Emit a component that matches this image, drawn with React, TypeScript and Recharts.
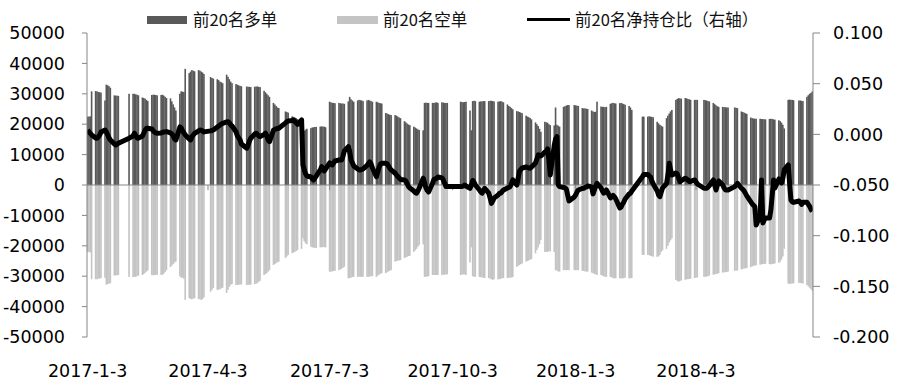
import React from 'react';
import { ComposedChart, Bar, Line, XAxis, YAxis, ReferenceLine } from 'recharts';

// ---- categories: trading days from 2017-01-03 to 2018-06-29 ----
const FIRST_DAY = '2017-01-03';
const LAST_DAY = '2018-06-29';
const holidays = [
  '2017-01-27', '2017-01-30', '2017-01-31', '2017-02-01', '2017-02-02',
  '2017-04-03', '2017-04-04', '2017-05-01', '2017-05-29', '2017-05-30',
  '2017-10-02', '2017-10-03', '2017-10-04', '2017-10-05', '2017-10-06',
  '2018-01-01', '2018-02-15', '2018-02-16', '2018-02-19', '2018-02-20', '2018-02-21',
  '2018-04-05', '2018-04-06', '2018-04-30', '2018-05-01', '2018-06-18',
];
const xTickLabels = ['2017-1-3', '2017-4-3', '2017-7-3', '2017-10-3', '2018-1-3', '2018-4-3'];
const leftTicks = [-50000, -40000, -30000, -20000, -10000, 0, 10000, 20000, 30000, 40000, 50000];
const rightTicks = [-0.2, -0.15, -0.1, -0.05, 0, 0.05, 0.1];

// ---- series values, one row per trading week (unit: thousand lots) ----
const longWeeks = [
  [22.5, 22.5, 22.6, 30.8], [30.9, 30.8, 30.6, 30.5, 30.4], [27.8, 33.0, 32.8, 32.5, 32.0], [29.5, 29.4, 29.4, 29.3],
  [30.0], [30.0, 30.0, 29.8, 29.7, 29.5], [28.8, 28.6, 28.4, 28.0, 27.6], [29.6, 29.7, 29.7, 29.6, 29.5],
  [29.6, 29.7, 29.4, 29.0, 28.6], [28.5, 27.5, 26.5, 25.5, 24.5], [30.0, 30.8, 30.7, 30.6, 38.2], [36.8, 37.3, 37.8, 37.6, 37.4],
  [37.8, 37.6, 37.3, 37.0, 36.5], [35.5, 35.2, 35.0], [34.8, 34.5, 34.0, 33.8, 33.5], [36.3, 35.6, 34.8, 34.0, 33.5],
  [33.2, 33.0, 32.8, 32.6, 32.5], [32.4, 32.3, 32.3, 32.2], [32.3, 32.4, 32.4, 32.3, 32.2], [31.0, 30.5, 30.0, 29.5, 29.0],
  [27.0, 26.5, 26.0, 25.5, 25.3], [24.2, 24.0, 23.8], [22.6, 22.4, 22.2, 22.0, 21.7], [21.2, 17.5, 17.8, 18.2, 18.5],
  [18.7, 18.9, 19.0, 19.1, 19.1], [19.2, 19.3, 19.2, 19.2, 19.0], [27.4, 27.2, 27.0, 27.0, 26.9], [27.0, 26.9, 26.8, 26.8, 26.7],
  [27.5, 29.0, 28.2, 27.8, 27.4], [27.8, 28.0, 27.9, 27.8, 27.6], [27.8, 28.0, 27.8, 27.6, 27.4], [27.4, 27.2, 27.0, 26.9, 26.8],
  [23.7, 23.5, 23.3, 23.1, 23.0], [23.0, 22.8, 22.5, 22.2, 22.0], [21.0, 20.6, 20.2, 19.9, 19.7], [19.2, 18.9, 18.6, 18.3, 18.1],
  [18.0, 27.0, 27.1, 27.0, 27.0], [27.0, 27.0, 27.1, 27.2, 27.0], [27.2, 27.1, 27.0, 27.0, 27.0],
  [27.4, 27.3, 27.2, 27.3, 27.4], [24.5, 18.0, 27.6, 27.7, 27.6], [27.4, 27.5, 27.5, 27.6, 27.6], [27.6, 27.7, 27.7, 27.6, 27.5],
  [27.4, 27.5, 27.6, 27.4, 27.2], [26.5, 26.0, 25.7, 25.3, 24.9], [24.3, 24.2, 24.0, 23.8, 23.6], [22.8, 22.5, 22.3, 22.0, 21.6],
  [20.6, 20.0, 19.4, 18.5, 17.5], [20.8, 20.6, 20.5, 20.0, 19.7], [19.6, 25.5, 19.8, 19.5, 19.2], [25.7, 25.9, 26.1, 26.3, 26.3],
  [26.3, 26.2, 26.1, 26.0], [25.3, 25.2, 25.2, 25.1, 25.0], [24.5, 24.2, 24.0, 24.1, 27.4], [25.8, 25.7, 25.7, 25.6, 25.7],
  [26.7, 26.9, 27.0, 26.9, 26.8], [26.9, 27.0, 26.8, 26.6, 26.4], [26.0, 25.5, 24.7], [22.5, 22.5],
  [22.5, 22.6, 22.5, 22.4, 22.3], [20.8, 20.3, 19.8, 19.5, 19.2], [22.0, 22.8, 23.5, 24.2, 24.7], [28.0, 28.3, 28.6, 28.5, 28.4],
  [28.6, 28.5, 28.3, 28.2, 28.0], [28.0, 28.0, 28.0], [28.0, 27.9, 27.8, 27.6, 27.5], [27.0, 26.6, 26.2, 25.9, 25.7],
  [25.7, 25.6, 25.6, 25.5, 25.5], [25.5, 25.4, 25.3], [24.2, 24.0, 23.8, 23.6, 23.4], [22.2, 22.0, 21.9, 21.8, 21.8],
  [21.8, 21.7, 21.7, 21.6, 21.6], [21.7, 21.8, 21.7, 21.6, 21.5], [21.3, 21.0, 20.5, 19.8, 18.6], [28.0, 28.1, 28.0, 28.0, 27.9],
  [27.8, 27.8, 27.7, 27.6], [29.0, 29.5, 30.0, 30.3, 30.8],
];

const shortWeeks = [
  [-22.0, -22.0, -22.2, -31.0], [-31.0, -31.0, -30.8, -30.8, -30.6], [-30.5, -32.8, -32.6, -32.5, -32.3], [-29.8, -29.7, -29.7, -29.6],
  [-30.2], [-30.3, -30.2, -30.2, -30.0, -29.8], [-29.6, -29.3, -28.9, -28.5, -28.1], [-29.6, -29.7, -29.6, -29.6, -29.5],
  [-29.6, -29.5, -29.2, -28.6, -28.0], [-27.0, -26.5, -26.0, -25.5, -25.2], [-30.0, -30.5, -30.5, -30.8, -37.8], [-37.2, -37.5, -37.6, -37.4, -37.2],
  [-37.5, -37.6, -37.8, -37.5, -37.0], [-35.1, -34.5, -33.9], [-34.5, -34.4, -34.3, -34.0, -33.8], [-35.5, -34.5, -33.5, -32.8, -32.6],
  [-32.9, -32.9, -32.8, -32.8, -32.7], [-32.9, -32.9, -32.8, -32.8], [-32.6, -32.5, -32.2, -31.8, -31.5], [-29.6, -29.3, -29.0, -28.5, -28.0],
  [-26.3, -26.0, -25.7, -25.4, -25.2], [-24.0, -23.5, -23.0], [-22.4, -22.2, -22.0, -21.7, -21.4], [-21.0, -17.5, -18.5, -19.2, -19.5],
  [-20.3, -20.5, -20.6, -20.7, -20.7], [-20.5, -20.5, -20.4, -20.5, -20.5], [-28.5, -28.5, -28.4, -28.3, -28.2], [-28.0, -27.8, -27.5, -27.2, -26.9],
  [-30.7, -30.6, -30.5, -30.3, -30.2], [-30.2, -30.2, -30.2, -30.2, -30.2], [-30.2, -30.2, -30.1, -30.0, -30.0], [-30.2, -29.8, -29.5, -29.2, -29.0],
  [-29.0, -28.7, -28.4, -28.2, -28.0], [-25.2, -25.0, -24.9, -24.8, -24.7], [-24.0, -23.8, -23.6, -23.4, -23.3], [-22.0, -21.5, -21.0, -20.3, -19.7],
  [-19.5, -30.2, -30.2, -30.1, -30.0], [-29.6, -29.6, -29.6, -29.6, -29.6], [-29.6, -29.5, -29.5, -29.4, -29.4],
  [-29.6, -29.5, -29.4, -29.4, -29.6], [-25.5, -20.5, -30.0, -30.2, -30.2], [-30.2, -30.3, -30.4, -30.5, -30.6], [-30.6, -30.8, -31.0, -31.2, -31.0],
  [-31.0, -31.0, -30.8, -30.7, -30.6], [-30.6, -30.5, -30.5, -30.4, -30.3], [-26.9, -26.6, -26.3, -26.0, -25.8], [-25.2, -25.0, -24.8, -24.6, -24.3],
  [-22.5, -21.4, -20.5, -19.5, -18.1], [-22.0, -22.0, -22.0, -21.8, -21.8], [-22.0, -28.0, -28.2, -28.4, -28.5], [-28.0, -28.0, -28.0, -28.0, -28.0],
  [-28.0, -28.0, -28.0, -28.0], [-28.2, -28.3, -28.4, -28.5, -28.5], [-28.8, -29.0, -29.2, -29.4, -29.6], [-29.6, -29.8, -30.0, -30.2, -30.2],
  [-30.2, -30.4, -30.6, -30.7, -30.7], [-30.7, -30.7, -30.7, -30.6, -30.5], [-30.7, -30.7, -30.6], [-23.0, -23.0],
  [-23.0, -23.1, -23.3, -23.4, -23.6], [-23.6, -23.5, -23.0, -22.0, -21.5], [-21.0, -20.0, -19.0, -18.2, -17.6], [-31.2, -31.5, -31.8, -31.6, -31.4],
  [-31.2, -31.0, -31.0, -30.9, -30.8], [-30.6, -30.5, -30.4], [-30.2, -30.2, -30.1, -30.0, -29.8], [-29.5, -29.4, -29.3, -29.2, -29.0],
  [-28.8, -28.7, -28.7, -28.6, -28.5], [-28.2, -28.2, -28.1], [-27.8, -27.6, -27.5, -27.4, -27.3], [-27.0, -26.8, -26.6, -26.5, -26.4],
  [-26.2, -26.1, -26.0, -26.0, -25.9], [-26.0, -26.1, -26.0, -25.9, -25.8], [-25.6, -25.2, -24.5, -23.5, -21.0], [-32.4, -32.5, -32.5, -32.4, -32.3],
  [-32.2, -32.2, -32.3, -32.4], [-32.9, -33.3, -33.8, -34.2, -34.8],
];

const ratioWeeks = [
  [0.0043, 0.0024, 0.0009, -0.0006], [-0.0036, -0.0039, -0.0026, -0.0006, 0.0024], [0.0043, 0.0024, -0.0006, -0.0036, -0.0055], [-0.0095, -0.0105, -0.0095, -0.0088],
  [-0.0038], [-0.0016, 0.0011, -0.0016, -0.0036, -0.0038], [-0.0016, 0.0014, 0.0043, 0.006, 0.006], [0.0053, 0.0034, 0.0024, 0.0014, 0.0011],
  [0.0014, 0.0019, 0.0024, 0.0024, 0.0027], [0.0014, 0.0004, -0.0016, -0.0045, -0.0055], [0.0073, 0.0063, 0.0034, 0.0014, -0.0006], [-0.0045, -0.0055, -0.0026, -0.0006, 0.0009],
  [0.0034, 0.0043, 0.0039, 0.0034, 0.0024], [0.0034, 0.0039, 0.0043], [0.0073, 0.0083, 0.0093, 0.0103, 0.0108], [0.0122, 0.0125, 0.0113, 0.0093, 0.0083],
  [0.0024, -0.0016, -0.0036, -0.0055, -0.0095], [-0.0137, -0.0105, -0.0065, -0.0038], [0.0004, 0.0011, -0.0001, -0.0016, -0.0023], [-0.0001, 0.0011, -0.0016, -0.0055, -0.0072],
  [0.0043, 0.0048, 0.0053, 0.0058, 0.006], [0.0113, 0.0125, 0.0132], [0.0137, 0.0142, 0.0127, 0.0113, 0.0098], [0.0142, -0.0302, -0.0351, -0.0391, -0.0411],
  [-0.0421, -0.044, -0.045, -0.043, -0.0411], [-0.0351, -0.0319, -0.0332, -0.0361, -0.0342], [-0.0282, -0.0292, -0.0302, -0.0282, -0.0263], [-0.0253, -0.0253, -0.0253, -0.0213, -0.0164],
  [-0.0121, -0.0174, -0.0253, -0.0282, -0.0312], [-0.0342, -0.0351, -0.0351, -0.0347, -0.0342], [-0.0307, -0.0287, -0.0272, -0.0292, -0.0332], [-0.0418, -0.0371, -0.0322, -0.0292, -0.0285],
  [-0.0285, -0.0292, -0.0312, -0.0335, -0.0351], [-0.0384, -0.0401, -0.0418, -0.043, -0.0445], [-0.045, -0.046, -0.049, -0.0516, -0.0529], [-0.0559, -0.0574, -0.0581, -0.0559, -0.0529],
  [-0.0433, -0.048, -0.0529, -0.0554, -0.0569], [-0.048, -0.0445, -0.044, -0.0433, -0.0421], [-0.043, -0.045, -0.048, -0.0516, -0.0516],
  [-0.0516, -0.0515, -0.051, -0.05, -0.051], [-0.0533, -0.05, -0.0455, -0.0475, -0.05], [-0.0549, -0.0569, -0.0581, -0.0554, -0.0534], [-0.0581, -0.0628, -0.0681, -0.0657, -0.0628],
  [-0.0599, -0.0583, -0.0579, -0.0564, -0.0549], [-0.0529, -0.0524, -0.0516, -0.0485, -0.045], [-0.05, -0.043, -0.0361, -0.0347, -0.0332], [-0.0322, -0.0327, -0.0332, -0.0335, -0.0322],
  [-0.0282, -0.0243, -0.0203, -0.0208, -0.0213], [-0.0174, -0.0169, -0.0144, -0.0253, -0.0401], [-0.0105, -0.0045, -0.0023, -0.05, -0.0516], [-0.0524, -0.0529, -0.0539, -0.0598, -0.0657],
  [-0.0618, -0.0598, -0.0569, -0.0549], [-0.0534, -0.0532, -0.0524, -0.0519, -0.0509], [-0.0519, -0.0588, -0.0549, -0.0509, -0.0483], [-0.0529, -0.0559, -0.0581, -0.0569, -0.0549],
  [-0.0628, -0.0618, -0.0603, -0.0618, -0.0638], [-0.0727, -0.0718, -0.0688, -0.0668, -0.0638], [-0.0588, -0.0581, -0.0559], [-0.0416, -0.0396],
  [-0.0396, -0.0411, -0.0421, -0.046, -0.049], [-0.0559, -0.0598, -0.0615, -0.0569, -0.0529], [-0.0483, -0.0401, -0.0285, -0.0351, -0.0401], [-0.0381, -0.0391, -0.043, -0.0467, -0.0458],
  [-0.0433, -0.044, -0.045, -0.0465, -0.0465], [-0.045, -0.047, -0.049], [-0.0532, -0.0532, -0.0532, -0.0519, -0.0505], [-0.045, -0.05, -0.0549, -0.05, -0.046],
  [-0.05, -0.0529, -0.0549, -0.0549, -0.0549], [-0.0516, -0.05, -0.0483], [-0.0532, -0.0544, -0.0559, -0.0583, -0.0608], [-0.0667, -0.0687, -0.0702, -0.0714, -0.0895],
  [-0.0796, -0.045, -0.0875, -0.0845, -0.0826], [-0.0826, -0.0746, -0.0598, -0.045, -0.0529], [-0.044, -0.046, -0.048, -0.043, -0.0351], [-0.0302, -0.048, -0.0648, -0.0667, -0.0672],
  [-0.0658, -0.0671, -0.0691, -0.0671], [-0.0671, -0.0691, -0.0711, -0.074, -0.076],
];

// ---- build table ----
const DAY_MS = 86400000;
const parseDate = (s: string) => {
  const [y, m, d] = s.split('-').map(Number);
  return Date.UTC(y, m - 1, d);
};
const pad = (n: number) => (n < 10 ? '0' + n : '' + n);
const isoOf = (t: number) => {
  const dt = new Date(t);
  return dt.getUTCFullYear() + '-' + pad(dt.getUTCMonth() + 1) + '-' + pad(dt.getUTCDate());
};
const startT = parseDate(FIRST_DAY);
const endT = parseDate(LAST_DAY);
const dayIndex = (t: number) => Math.round((t - startT) / DAY_MS);

const tradingDays: number[] = [];
for (let t = startT; t <= endT; t += DAY_MS) {
  const wd = new Date(t).getUTCDay();
  if (wd === 0 || wd === 6) continue;
  if (holidays.includes(isoOf(t))) continue;
  tradingDays.push(dayIndex(t));
}

const longVals = longWeeks.flat();
const shortVals = shortWeeks.flat();
const ratioVals = ratioWeeks.flat();
const n = Math.min(tradingDays.length, longVals.length, shortVals.length, ratioVals.length);
const data = tradingDays.slice(0, n).map((d, i) => ({
  d,
  long: Math.round(longVals[i] * 1000),
  short: Math.round(shortVals[i] * 1000),
  ratio: ratioVals[i],
}));

const xTicks = xTickLabels.map((s) => dayIndex(parseDate(s)));
const labelOf: Record<number, string> = {};
xTicks.forEach((d, i) => (labelOf[d] = xTickLabels[i]));
const xDomain = [tradingDays[0] - 0.5, tradingDays[n - 1] + 0.5];

const AXIS_GRAY = '#868686';
const LONG_COLOR = '#595959';
const SHORT_COLOR = '#c4c4c4';
const NUM_FONT = 'DejaVu Sans, Verdana, sans-serif';
const CJK_FONT = '"Noto Sans CJK SC", "Noto Sans", sans-serif';

// day bar: library-computed rect, widened slightly so adjacent trading days merge into solid blocks
const DayBar = (props: any) => {
  const { x, y, width, height, fill } = props;
  if (width == null || height == null) return null;
  const h = Math.abs(height);
  const top = height < 0 ? y + height : y;
  return <rect x={x - 0.2} y={top} width={width + 0.4} height={h} fill={fill} />;
};

const legendText: React.CSSProperties = {
  position: 'absolute',
  top: 8,
  fontFamily: CJK_FONT,
  fontSize: 16.5,
  lineHeight: '22px',
  color: '#111',
  whiteSpace: 'nowrap',
};

export default function App() {
  return (
    <div style={{ position: 'absolute', left: 0, top: 0, width: 900, height: 383, background: '#fff' }}>
      <ComposedChart
        width={900}
        height={383}
        data={data}
        stackOffset="sign"
        margin={{ top: 33, right: 7, bottom: 6, left: 7 }}
      >
        <XAxis
          dataKey="d"
          type="number"
          domain={xDomain}
          allowDataOverflow
          ticks={xTicks}
          interval={0}
          tickFormatter={(v: number) => labelOf[v] ?? ''}
          axisLine={false}
          tickLine={false}
          tickSize={6}
          tickMargin={22}
          height={40}
          tick={{ fill: '#000', fontSize: 17.5, fontFamily: NUM_FONT }}
        />
        <YAxis
          yAxisId="left"
          orientation="left"
          domain={[-50000, 50000]}
          ticks={leftTicks}
          interval={0}
          width={80}
          axisLine={{ stroke: AXIS_GRAY }}
          tickLine={{ stroke: AXIS_GRAY }}
          tickSize={5}
          tickMargin={17}
          tick={{ fill: '#000', fontSize: 17.5, fontFamily: NUM_FONT }}
        />
        <YAxis
          yAxisId="right"
          orientation="right"
          domain={[-0.2, 0.1]}
          ticks={rightTicks}
          interval={0}
          width={80}
          axisLine={{ stroke: AXIS_GRAY }}
          tickLine={{ stroke: AXIS_GRAY }}
          tickSize={7}
          tickMargin={13}
          tickFormatter={(v: number) => v.toFixed(3)}
          tick={{ fill: '#000', fontSize: 17.5, fontFamily: NUM_FONT }}
        />
        <Bar yAxisId="left" dataKey="long" stackId="s" fill={LONG_COLOR} barSize={1.5} shape={DayBar} isAnimationActive={false} />
        <Bar yAxisId="left" dataKey="short" stackId="s" fill={SHORT_COLOR} barSize={1.5} shape={DayBar} isAnimationActive={false} />
        <ReferenceLine yAxisId="left" y={0} stroke={AXIS_GRAY} strokeWidth={1} />
        {xTicks.slice(1).map((d) => (
          <ReferenceLine
            key={d}
            yAxisId="left"
            segment={[{ x: d, y: 0 }, { x: d, y: -1700 }]}
            stroke={AXIS_GRAY}
            strokeWidth={1}
          />
        ))}
        <Line
          yAxisId="right"
          dataKey="ratio"
          type="linear"
          stroke="#000"
          strokeWidth={5}
          strokeLinejoin="round"
          dot={false}
          activeDot={false}
          isAnimationActive={false}
        />
      </ComposedChart>
      <div style={{ position: 'absolute', left: 147, top: 16, width: 40, height: 8, background: LONG_COLOR }} />
      <div style={{ ...legendText, left: 193 }}>前20名多单</div>
      <div style={{ position: 'absolute', left: 337, top: 16, width: 41, height: 8, background: SHORT_COLOR }} />
      <div style={{ ...legendText, left: 383 }}>前20名空单</div>
      <div style={{ position: 'absolute', left: 527, top: 18, width: 43, height: 3, background: '#000' }} />
      <div style={{ ...legendText, left: 575 }}>前20名净持仓比（右轴）</div>
    </div>
  );
}
